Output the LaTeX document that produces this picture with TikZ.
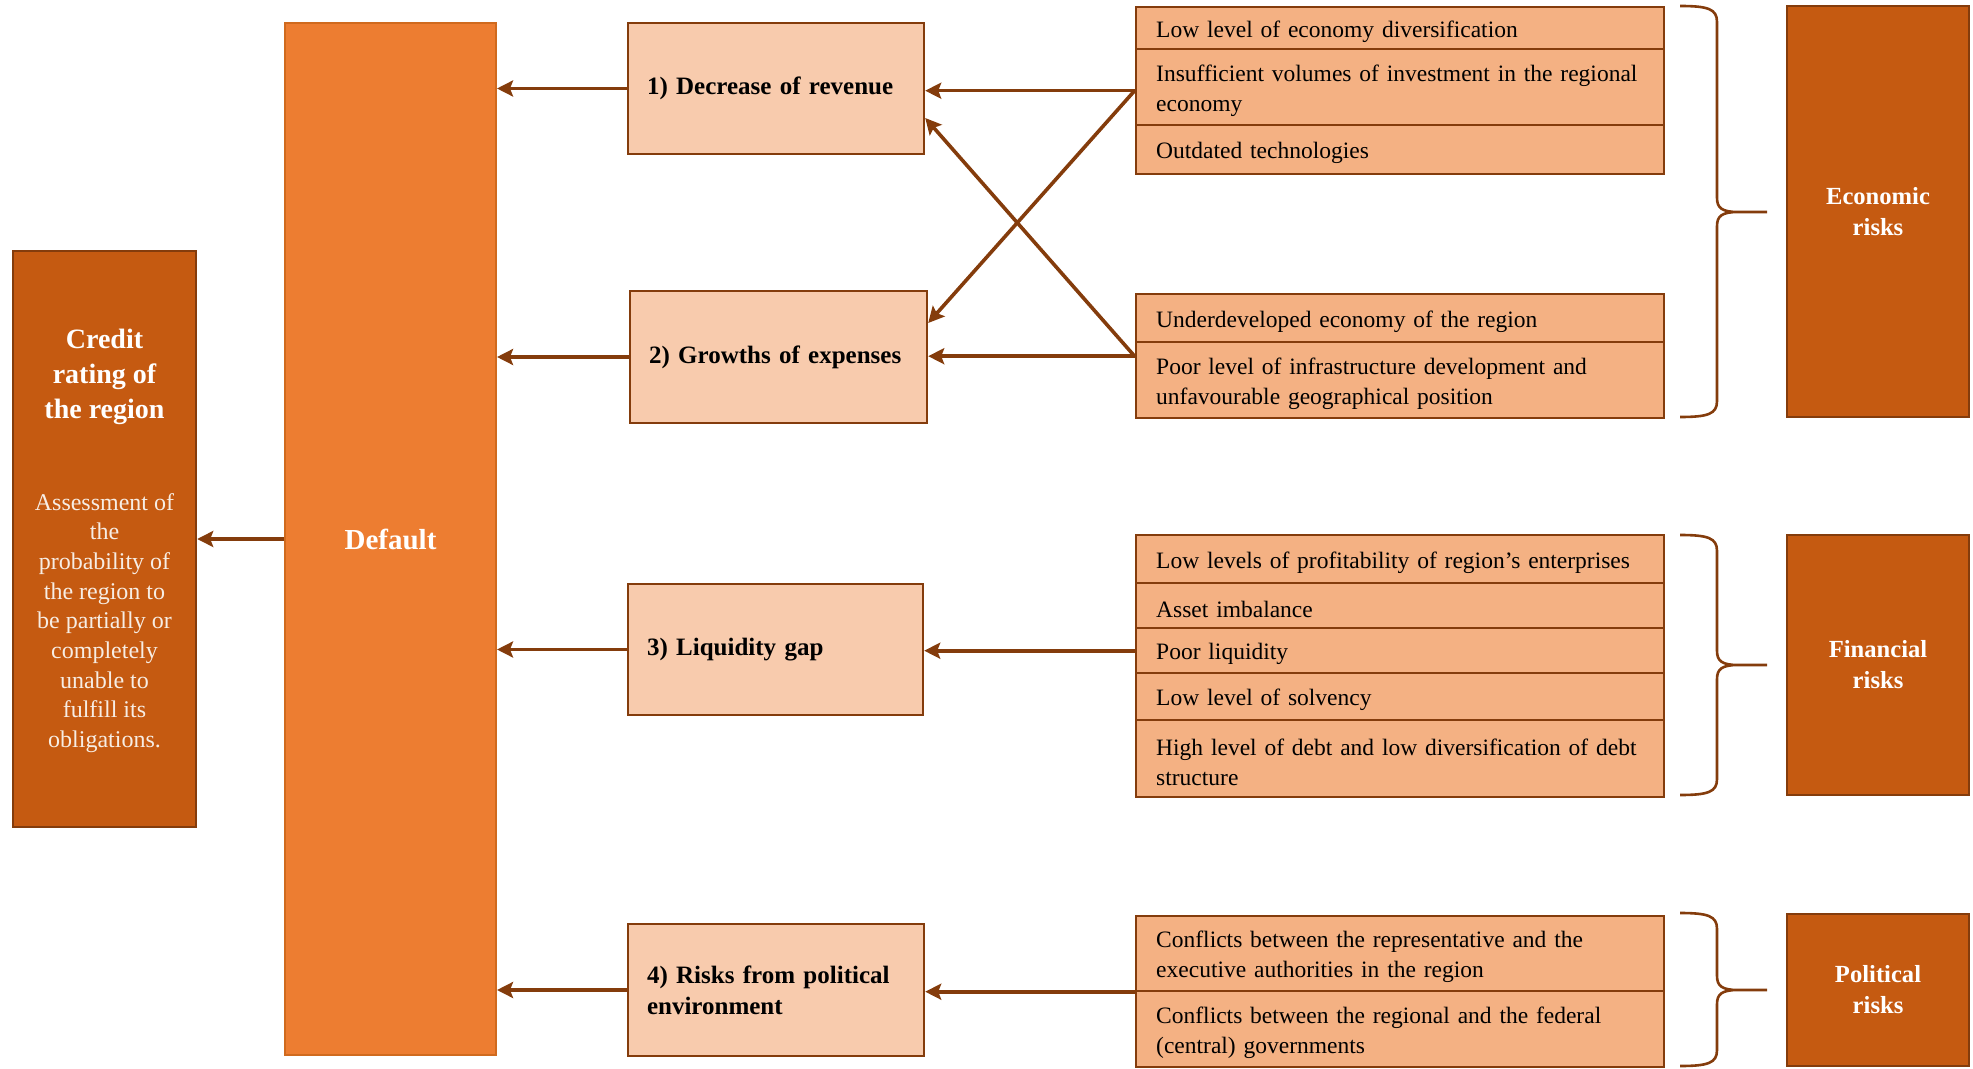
\documentclass[tikz,border=0pt]{standalone}
\usepackage{fontspec}
\setmainfont{Liberation Serif}
\usetikzlibrary{arrows.meta,fit,calc}
\definecolor{brn}{HTML}{843C0C}
\definecolor{dorange}{HTML}{C55A11}
\definecolor{morange}{HTML}{ED7D31}
\definecolor{defb}{HTML}{D06A1E}
\definecolor{lpeach}{HTML}{F8CBAD}
\definecolor{rowfill}{HTML}{F4B183}
\definecolor{cream}{HTML}{F7EDE4}
\newcommand{\riskbrace}[3]{%
  \draw[brc] (1680,#1) .. controls (1708,#1) and (1717,#1+3) .. (1717,#1+16)
    -- (1717,#2-14) .. controls (1717,#2-4) and (1722,#2) .. (1738,#2) -- (1767,#2)
    (1738,#2) .. controls (1722,#2) and (1717,#2+4) .. (1717,#2+14)
    -- (1717,#3-16) .. controls (1717,#3-3) and (1708,#3) .. (1680,#3);}
\begin{document}
\begin{tikzpicture}[x=0.5pt,y=-0.5pt,
  darkbox/.style={draw=brn, line width=1.2pt, fill=dorange, text=white, inner sep=0pt},
  riskbox/.style={darkbox, minimum width=91pt, align=center, font=\fontsize{12.3}{15.5}\selectfont\bfseries},
  midbox/.style={draw=brn, line width=1.2pt, fill=lpeach, inner xsep=9.5pt, inner ysep=0pt, align=left, text=black, font=\fontsize{12.5}{15.5}\selectfont\bfseries},
  rowbox/.style={draw=brn, line width=1.2pt, fill=rowfill, anchor=north west, minimum width=264pt, text width=244pt, inner xsep=10pt, inner ysep=0pt, align=left, text=black, font=\fontsize{11.75}{15}\selectfont, execute at begin node={\rule{0pt}{11.5pt}}},
  arr/.style={draw=brn, line width=1.8pt, -{Stealth[length=8pt,width=8pt,inset=1.5pt]}},
  brc/.style={draw=brn, line width=1.3pt},
  grp/.style={inner sep=0pt}]
\useasboundingbox (0,0) rectangle (1973,1069);

% left side
\node[draw=defb, line width=1pt, fill=morange, minimum width=105.5pt, minimum height=516pt, text=white, font=\fontsize{14.5}{17}\selectfont\bfseries] (default) at (390.5,539) {Default};
\node[darkbox, minimum width=91.5pt, minimum height=288pt] (credit) at (104.5,539) {};
\node[text=white, align=center, font=\fontsize{14}{17.5}\selectfont\bfseries] (ctitle) at (104.5,376.5) {Credit\\rating of\\the region};
\node[text=cream, align=center, font=\fontsize{12}{14.85}\selectfont] (cdesc) at (104.5,623) {Assessment of\\the\\probability of\\the region to\\be partially or\\completely\\unable to\\fulfill its\\obligations.};

% middle boxes
\node[midbox, minimum width=148pt, minimum height=65.5pt, text width=129pt] (b1) at (776,88.5) {1) Decrease of revenue};
\node[midbox, minimum width=148.5pt, minimum height=66pt, text width=129.5pt] (b2) at (778.5,357) {2) Growths of expenses};
\node[midbox, minimum width=147.5pt, minimum height=65.5pt, text width=128.5pt] (b3) at (775.5,649.5) {3) Liquidity gap};
\node[midbox, minimum width=148pt, minimum height=66pt, text width=129pt] (b4) at (776,990) {4) Risks from political\\environment};

% economic rows
\node[rowbox, minimum height=21pt] (e1) at (1135,6) {Low level of economy diversification};
\node[rowbox, minimum height=38pt] (e2) at (1135,48) {\mbox{Insufficient volumes of investment in the regional}\\economy};
\node[rowbox, minimum height=24.5pt] (e3) at (1135,124) {Outdated technologies};
\node[rowbox, minimum height=24pt] (u1) at (1135,293) {Underdeveloped economy of the region};
\node[rowbox, minimum height=38pt] (u2) at (1135,341) {\mbox{Poor level of infrastructure development and}\\unfavourable geographical position};
% financial rows
\node[rowbox, minimum height=24pt] (f1) at (1135,534) {\mbox{Low levels of profitability of region’s enterprises}};
\node[rowbox, minimum height=22.5pt] (f2) at (1135,582) {Asset imbalance};
\node[rowbox, minimum height=22.5pt] (f3) at (1135,627) {Poor liquidity};
\node[rowbox, minimum height=23.5pt] (f4) at (1135,672) {Low level of solvency};
\node[rowbox, minimum height=38.5pt] (f5) at (1135,719) {\mbox{High level of debt and low diversification of debt}\\structure};
% political rows
\node[rowbox, minimum height=37.5pt] (p1) at (1135,915) {\mbox{Conflicts between the representative and the}\\executive authorities in the region};
\node[rowbox, minimum height=38pt] (p2) at (1135,990) {\mbox{Conflicts between the regional and the federal}\\(central) governments};

\node[grp, fit=(e1)(e3)] (g1) {};
\node[grp, fit=(u1)(u2)] (g2) {};
\node[grp, fit=(f1)(f5)] (g3) {};
\node[grp, fit=(p1)(p2)] (g4) {};

% risk boxes
\node[riskbox, minimum height=205.5pt] (econ) at (1878,211.5) {Economic\\risks};
\node[riskbox, minimum height=130pt] (fin) at (1878,665) {Financial\\risks};
\node[riskbox, minimum height=76pt] (pol) at (1878,990) {Political\\risks};

% braces
\riskbrace{6}{212}{417}
\riskbrace{535}{665}{795}
\riskbrace{913}{990}{1066}

% arrows
\draw[arr] (default.west) -- (credit.east);
\draw[arr] (b1.west) -- (b1.west -| default.east);
\draw[arr] (b2.west) -- (b2.west -| default.east);
\draw[arr] (b3.west) -- (b3.west -| default.east);
\draw[arr] (b4.west) -- (b4.west -| default.east);
\draw[arr] (g1.west) -- (g1.west -| b1.east);
\draw[arr] (g1.west) -- ([yshift=17pt]b2.east);
\draw[arr] (g2.west) -- (g2.west -| b2.east);
\draw[arr] (g2.west) -- ([yshift=-14.75pt]b1.east);
\draw[arr] (f3.west) -- (f3.west -| b3.east);
\draw[arr] (g4.west) -- (g4.west -| b4.east);
\end{tikzpicture}
\end{document}
